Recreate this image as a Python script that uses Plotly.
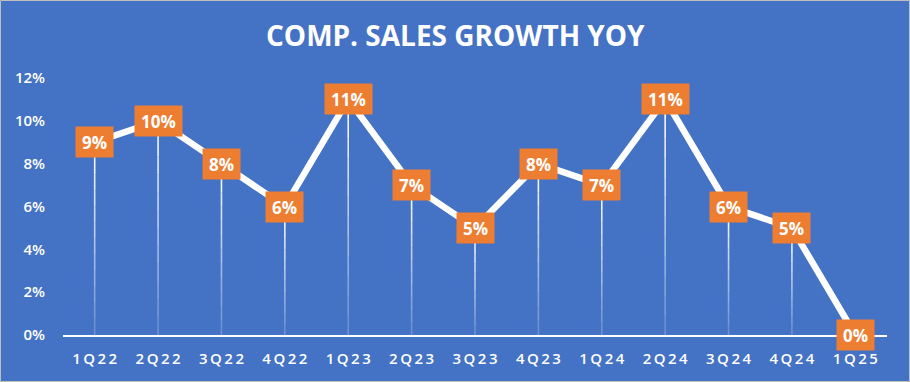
import plotly.graph_objects as go

quarters = ["1Q22", "2Q22", "3Q22", "4Q22", "1Q23", "2Q23", "3Q23", "4Q23",
            "1Q24", "2Q24", "3Q24", "4Q24", "1Q25"]
growth = [9.0, 10.0, 8.0, 6.0, 11.0, 7.0, 5.0, 8.0, 7.0, 11.0, 6.0, 5.0, 0.0]
labels = ["9%", "10%", "8%", "6%", "11%", "7%", "5%", "8%", "7%", "11%", "6%", "5%", "0%"]
y_ticks = [0, 2, 4, 6, 8, 10, 12]
y_ticktext = ["0%", "2%", "4%", "6%", "8%", "10%", "12%"]
title_text = "COMP. SALES GROWTH YOY"

BG = "#4472C4"
ORANGE = "#ED7D31"
FONT = "Open Sans"
W, H = 910, 382
ML, MR, MT, MB = 63, 23, 78, 47
PW, PH = W - ML - MR, H - MT - MB

fig = go.Figure()

# drop lines with fading gradient
shapes = []
nseg = 12
for i, v in enumerate(growth):
    if v <= 0:
        continue
    for s in range(nseg):
        y0 = v * s / nseg
        y1 = v * (s + 1) / nseg
        op = 0.15 + 0.85 * (s + 1) / nseg
        shapes.append(dict(type="line", xref="x", yref="y", x0=i, x1=i, y0=y0, y1=y1,
                           line=dict(color=f"rgba(255,255,255,{op:.3f})", width=1.6),
                           layer="below"))

fig.add_trace(go.Scatter(
    x=list(range(len(quarters))), y=growth, mode="lines",
    line=dict(color="white", width=6.5), hoverinfo="skip", showlegend=False))

annotations = []
for i, (v, t) in enumerate(zip(growth, labels)):
    annotations.append(dict(
        x=i, y=v, xref="x", yref="y", text=f"<b>{t}</b>", showarrow=False,
        bgcolor=ORANGE, borderpad=0, width=37 if len(t) <= 2 else 47, height=30,
        font=dict(family=FONT, size=17, color="white")))

annotations.append(dict(
    x=(W / 2 - ML) / PW, y=1 + (MT - 35) / PH, xref="paper", yref="paper",
    text=f"<b>{title_text}</b>",
    showarrow=False, xanchor="center", yanchor="middle",
    font=dict(family=FONT, size=28, color="white")))

# outer border
shapes.append(dict(type="rect", xref="paper", yref="paper",
                   x0=-(ML - 0.5) / PW, x1=1 + (MR - 0.5) / PW,
                   y0=-(MB - 0.5) / PH, y1=1 + (MT - 0.5) / PH,
                   line=dict(color="#BFBFBF", width=1), fillcolor="rgba(0,0,0,0)", layer="below"))

spaced = ["\u2009".join(list(q)) for q in quarters]

fig.update_layout(
    width=W, height=H,
    margin=dict(l=ML, r=MR, t=MT, b=MB, autoexpand=False),
    paper_bgcolor=BG, plot_bgcolor=BG,
    shapes=shapes, annotations=annotations,
    showlegend=False,
    xaxis=dict(
        tickmode="array", tickvals=list(range(len(quarters))), ticktext=spaced,
        range=[-0.5, len(quarters) - 0.5], showgrid=False, zeroline=False,
        showline=True, linecolor="white", linewidth=2, ticks="",
        ticklabelstandoff=9, automargin=False,
        tickfont=dict(family=FONT, size=15, color="white", weight=600), fixedrange=True),
    yaxis=dict(
        tickmode="array", tickvals=y_ticks, ticktext=y_ticktext,
        range=[0, 12], showgrid=False, zeroline=False, showline=False, ticks="",
        ticklabelstandoff=17, automargin=False,
        tickfont=dict(family=FONT, size=15, color="white", weight=600), fixedrange=True),
)

fig.write_html("out.html", config={"displayModeBar": False},
               post_script="document.body.style.margin='0';")
